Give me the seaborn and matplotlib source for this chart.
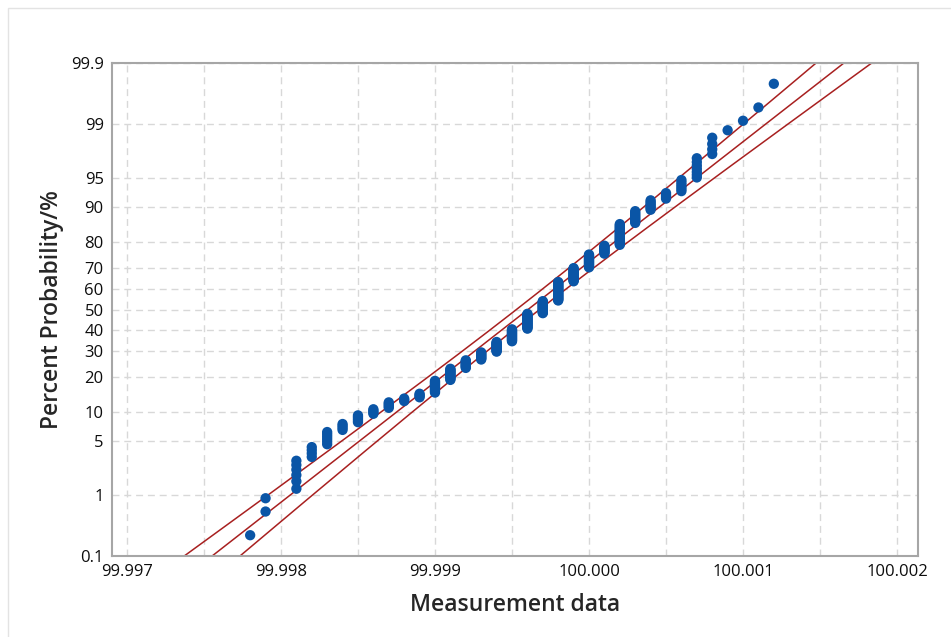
from statistics import NormalDist
import numpy as np
import pandas as pd
import matplotlib
matplotlib.use("Agg")
import matplotlib.pyplot as plt
import seaborn as sns
from matplotlib.ticker import FixedLocator, MultipleLocator, FuncFormatter
from matplotlib.patches import Rectangle

values = [99.9978, 99.9979, 99.9981, 99.9982, 99.9983, 99.9984, 99.9985, 99.9986,
          99.9987, 99.9988, 99.9989, 99.9990, 99.9991, 99.9992, 99.9993, 99.9994,
          99.9995, 99.9996, 99.9997, 99.9998, 99.9999, 100.0000, 100.0001, 100.0002,
          100.0003, 100.0004, 100.0005, 100.0006, 100.0007, 100.0008, 100.0009,
          100.0010, 100.0011, 100.0012]
counts = [1, 2, 6, 4, 6, 4, 5, 4, 5, 3, 4, 12, 13, 10, 10, 14, 18, 23, 19, 28, 19,
          17, 10, 21, 10, 7, 4, 6, 7, 4, 1, 1, 1, 1]

x_ticks = [99.997, 99.998, 99.999, 100.000, 100.001, 100.002]
y_ticks = [0.1, 1, 5, 10, 20, 30, 40, 50, 60, 70, 80, 90, 95, 99, 99.9]

nd = NormalDist()
_ppf = np.vectorize(lambda q: nd.inv_cdf(q / 100.0), otypes=[float])
_cdf = np.vectorize(lambda z: nd.cdf(z) * 100.0, otypes=[float])


def fwd(p):
    p = np.clip(np.asarray(p, dtype=float), 1e-7, 100 - 1e-7)
    return _ppf(p)


def inv(z):
    return _cdf(np.asarray(z, dtype=float))


# median-rank plotting positions
sample = np.repeat(values, counts)
n = len(sample)
ranks = np.arange(1, n + 1)
df = pd.DataFrame({"x": sample, "pct": (ranks - 0.3) / (n + 0.4) * 100})

# normal fit and 95% CI of the percentiles
mu = sample.mean()
sigma = sample.std()
pgrid = np.linspace(0.02, 99.98, 600)
zg = fwd(pgrid)
xfit = mu + zg * sigma
half = 1.96 * sigma * np.sqrt((1 + zg ** 2 / 2) / n)

sns.set_style("white")
plt.rcParams["font.family"] = ["Open Sans", "DejaVu Sans"]

fig = plt.figure(figsize=(9.51, 6.37), dpi=100)
fig.patches.append(Rectangle((8 / 951, -0.1), 2, (637 - 8) / 637 + 0.1,
                             transform=fig.transFigure, fill=False,
                             edgecolor="#e3e3e3", linewidth=1))
ax = fig.add_axes([112 / 951, 81 / 637, (918 - 112) / 951, (556 - 63) / 637])
ax.set_yscale("function", functions=(fwd, inv))

red = "#a82020"
for xs in (xfit - half, xfit, xfit + half):
    ax.plot(xs, pgrid, color=red, linewidth=1.1, zorder=2)
sns.scatterplot(data=df, x="x", y="pct", ax=ax, color="#0a55a6", s=55,
                edgecolor="none", zorder=3)

ax.set_xlim(99.996903, 100.002136)
ax.set_ylim(0.1, 99.9)
ax.xaxis.set_major_locator(FixedLocator(x_ticks))
ax.xaxis.set_minor_locator(MultipleLocator(0.0005))
ax.xaxis.set_major_formatter(FuncFormatter(lambda v, _: f"{v:.3f}"))
ax.yaxis.set_major_locator(FixedLocator(y_ticks))
ax.yaxis.set_major_formatter(FuncFormatter(lambda v, _: f"{v:g}"))
ax.yaxis.set_minor_locator(FixedLocator([]))

grid_kw = dict(color="#d8d8d8", linestyle=(0, (5, 3.5)), linewidth=1.0)
ax.grid(True, which="major", **grid_kw)
ax.grid(True, which="minor", axis="x", **grid_kw)
ax.set_axisbelow(True)

for s in ax.spines.values():
    s.set_color("#a6a6a6")
    s.set_linewidth(1.5)
ax.tick_params(axis="both", which="major", direction="out", length=4, width=1,
               color="#a6a6a6", labelsize=12, labelcolor="#0d0d0d", pad=2)
ax.tick_params(axis="x", which="minor", length=0)

ax.set_xlabel("Measurement data", fontsize=16.5, fontweight="semibold", labelpad=9)
ax.set_ylabel("Percent Probability/%", fontsize=16.5, fontweight="semibold", labelpad=5)

plt.savefig("out.png", dpi=100)
